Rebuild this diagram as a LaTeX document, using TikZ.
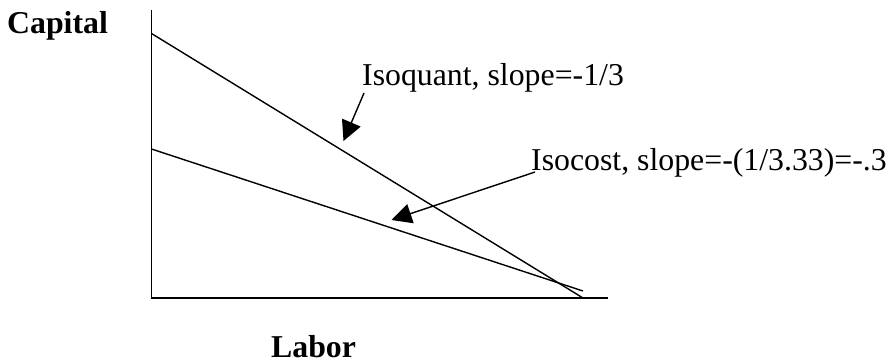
\documentclass[tikz,border=0pt]{standalone}
\usepackage{fontspec}
\setmainfont{Liberation Serif}
\usetikzlibrary{arrows.meta}
\begin{document}
\begin{tikzpicture}[x=1pt,y=-1pt,
  axis/.style={line width=1.8pt},
  curve/.style={line width=1.4pt},
  pointer/.style={line width=1.4pt,-{Triangle[length=20pt,width=20pt]}},
  lbl/.style={font=\fontsize{31.8}{36}\selectfont,inner sep=0pt,anchor=base west},
  axlbl/.style={font=\fontsize{31.8}{36}\selectfont\bfseries,inner sep=0pt,anchor=base west}]
\useasboundingbox (0,0) rectangle (889,364);
% axes
\coordinate (O) at (151.5,298);
\coordinate (ytop) at (151.5,10);
\coordinate (xend) at (608,298);
\draw[axis] (ytop) -- (O) -- (xend);
% lines
\coordinate (qA) at (151.5,33.5);
\coordinate (qB) at (583,298);
\coordinate (cA) at (151.5,149);
\coordinate (cB) at (583,291);
\draw[curve] (qA) -- (qB);
\draw[curve] (cA) -- (cB);
% labels
\node[axlbl] (cap) at (7,33) {Capital};
\node[axlbl] (lab) at (271,357) {Labor};
\node[lbl] (isoq) at (362,85) {Isoquant, slope=-1/3};
\node[lbl] (isoc) at (531,170.7) {Isocost, slope=-(1/3.33)=-.3};
% pointers
\coordinate (pqS) at (364,93);
\coordinate (pqT) at (343.5,141);
\coordinate (pcS) at (535,172);
\coordinate (pcT) at (391.5,220);
\draw[pointer] (pqS) -- (pqT);
\draw[pointer] (pcS) -- (pcT);
\end{tikzpicture}
\end{document}
